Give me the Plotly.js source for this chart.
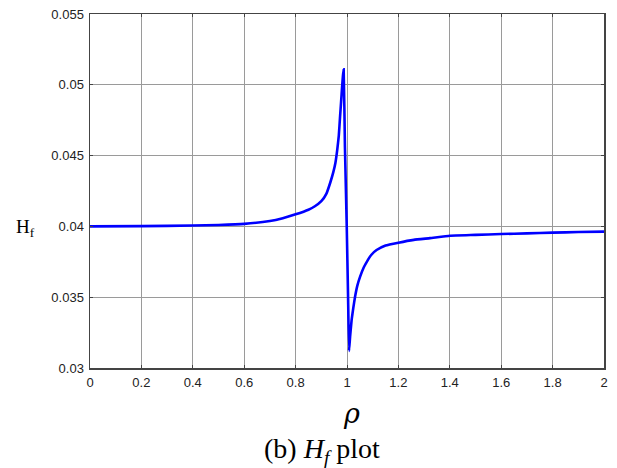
<!DOCTYPE html>
<html>
<head>
<meta charset="utf-8">
<script src="https://cdn.plot.ly/plotly-3.0.1.min.js"></script>
<style>html,body{margin:0;padding:0;background:#fff;}#chart{width:617px;height:468px;}</style>
</head>
<body>
<div id="chart"></div>
<script>
// Data
const rho = [0, 0.2, 0.4, 0.5, 0.6, 0.7, 0.75, 0.8, 0.85, 0.875, 0.9, 0.92, 0.935, 0.947, 0.955, 0.962, 0.968, 0.973, 0.977, 0.981, 0.984, 0.987, 0.992, 0.999, 1.004, 1.008, 1.012, 1.018, 1.025, 1.031, 1.04, 1.051, 1.065, 1.077, 1.095, 1.115, 1.15, 1.2, 1.26, 1.323, 1.4, 1.5, 1.6, 1.7, 1.8, 1.9, 2.0];
const Hf  = [0.0400, 0.04002, 0.04006, 0.0401, 0.04018, 0.04038, 0.04058, 0.04085, 0.04118, 0.04142, 0.04178, 0.04232, 0.0431, 0.04385, 0.0445, 0.0454, 0.0464, 0.04775, 0.0488, 0.04987, 0.0506, 0.0511, 0.0456, 0.0400, 0.0352, 0.0312, 0.0322, 0.0334, 0.0343, 0.0350, 0.0358, 0.03645, 0.0371, 0.0375, 0.0380, 0.03833, 0.03865, 0.03885, 0.03905, 0.03917, 0.03934, 0.0394, 0.03946, 0.03951, 0.03956, 0.0396, 0.03963];
const xTickVals = [0, 0.2, 0.4, 0.6, 0.8, 1, 1.2, 1.4, 1.6, 1.8, 2];
const xTickText = ["0", "0.2", "0.4", "0.6", "0.8", "1", "1.2", "1.4", "1.6", "1.8", "2"];
const yTickVals = [0.03, 0.035, 0.04, 0.045, 0.05, 0.055];
const yTickText = ["0.03", "0.035", "0.04", "0.045", "0.05", "0.055"];

const tickFont = {family: "Liberation Sans, Arial, sans-serif", size: 13, color: "#222"};
const serif = "Liberation Serif, Times New Roman, serif";

const trace = {
  x: rho, y: Hf, type: "scatter", mode: "lines",
  line: {color: "#0000ff", width: 2.6, shape: "spline", smoothing: 0.3},
  hoverinfo: "none"
};

const axisCommon = {
  showline: true, linecolor: "#444", linewidth: 1.5, mirror: "ticks",
  ticks: "inside", ticklen: 3, tickcolor: "#444", tickwidth: 1,
  showgrid: true, gridcolor: "#9a9a9a", gridwidth: 1,
  zeroline: false, tickfont: tickFont, ticklabelstandoff: 2
};

const layout = {
  width: 617, height: 468,
  margin: {l: 90, r: 13, t: 14, b: 100},
  paper_bgcolor: "#fff", plot_bgcolor: "#fff",
  showlegend: false,
  xaxis: Object.assign({}, axisCommon, {range: [0, 2], tickvals: xTickVals, ticktext: xTickText}),
  yaxis: Object.assign({}, axisCommon, {range: [0.03, 0.055], tickvals: yTickVals, ticktext: yTickText}),
  annotations: [
    {text: "H<sub>f</sub>", xref: "paper", yref: "paper", x: -0.148, y: 0.395, xanchor: "left", yanchor: "middle",
     showarrow: false, font: {family: serif, size: 19, color: "#000"}},
    {text: "<i>ρ</i>", xref: "paper", yref: "paper", x: 0.508, y: -0.128, xanchor: "center", yanchor: "middle",
     showarrow: false, font: {family: "DejaVu Serif, serif", size: 27, color: "#000"}},
    {text: "(b) <i>H<sub>f</sub></i> plot", xref: "paper", yref: "paper", x: 0.451, y: -0.232, xanchor: "center", yanchor: "middle",
     showarrow: false, font: {family: serif, size: 28, color: "#000"}}
  ]
};

Plotly.newPlot("chart", [trace], layout, {staticPlot: true, displayModeBar: false});
</script>
</body>
</html>
